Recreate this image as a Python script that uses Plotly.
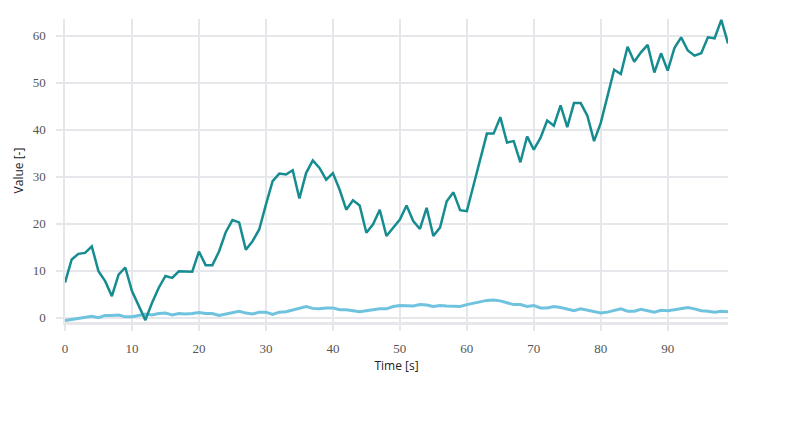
import plotly.graph_objects as go

time_s = list(range(100))

series_main = [
    7.5, 12.4, 13.6, 13.8, 15.2, 9.9, 7.8, 4.6, 9.2, 10.7,
    5.7, 2.5, -0.5, 3.2, 6.4, 8.9, 8.5, 9.9, 9.8, 9.8,
    14.1, 11.2, 11.2, 14.1, 18.2, 20.8, 20.3, 14.5, 16.3, 18.8,
    24.1, 29.1, 30.7, 30.5, 31.4, 25.4, 30.8, 33.5, 31.9, 29.4,
    30.8, 27.3, 23.0, 25.0, 23.9, 18.1, 19.9, 23.0, 17.4, 19.2,
    20.9, 23.9, 20.6, 18.9, 23.4, 17.4, 19.2, 24.8, 26.7, 22.9,
    22.7, 28.2, 33.7, 39.2, 39.2, 42.7, 37.3, 37.6, 33.1, 38.6,
    35.8, 38.3, 42.0, 40.9, 45.2, 40.6, 45.7, 45.7, 43.0, 37.6,
    41.5, 47.0, 52.8, 51.9, 57.7, 54.5, 56.5, 58.1, 52.2, 56.3,
    52.6, 57.4, 59.7, 56.9, 55.8, 56.3, 59.7, 59.5, 63.4, 58.4,
]

series_low = [
    -0.6, -0.4, -0.1, 0.1, 0.3, 0.0, 0.5, 0.5, 0.6, 0.2,
    0.2, 0.5, 0.8, 0.6, 0.9, 1.0, 0.6, 0.9, 0.8, 0.9,
    1.1, 0.9, 0.9, 0.5, 0.8, 1.2, 1.4, 1.0, 0.8, 1.2,
    1.2, 0.7, 1.2, 1.3, 1.7, 2.0, 2.4, 2.0, 1.9, 2.1,
    2.1, 1.7, 1.7, 1.5, 1.3, 1.5, 1.7, 1.9, 1.9, 2.4,
    2.6, 2.6, 2.5, 2.8, 2.7, 2.4, 2.6, 2.5, 2.5, 2.4,
    2.8, 3.1, 3.4, 3.7, 3.8, 3.6, 3.2, 2.8, 2.8, 2.4,
    2.6, 2.1, 2.1, 2.4, 2.2, 1.9, 1.5, 1.9, 1.6, 1.3,
    1.0, 1.2, 1.5, 1.9, 1.4, 1.4, 1.8, 1.5, 1.2, 1.6,
    1.5, 1.7, 1.9, 2.2, 1.9, 1.5, 1.4, 1.2, 1.4, 1.3,
]

x_ticks = [0, 10, 20, 30, 40, 50, 60, 70, 80, 90]
y_ticks = [0, 10, 20, 30, 40, 50, 60]

grid = "#e6e7ea"
tickfont = dict(family="Liberation Serif", size=13, color="#555555")
titlefont = dict(family="Open Sans", size=12, color="#222222")

fig = go.Figure()
fig.add_trace(go.Scatter(x=time_s, y=series_low, mode="lines",
                         line=dict(color="#6fc3de", width=3), showlegend=False))
fig.add_trace(go.Scatter(x=time_s, y=series_main, mode="lines",
                         line=dict(color="#168c90", width=2.5), showlegend=False))

fig.update_layout(
    width=784, height=429,
    margin=dict(l=57, r=64, t=11, b=115),
    paper_bgcolor="white", plot_bgcolor="white",
    xaxis=dict(
        range=[0, 99], tickvals=x_ticks, ticktext=[str(v) for v in x_ticks],
        showgrid=True, gridcolor=grid, gridwidth=1.5, automargin=False,
        zeroline=False, showline=True, linecolor=grid, linewidth=3,
        ticks="outside", ticklen=6, tickcolor=grid, tickwidth=1.5,
        tickfont=tickfont, ticklabelstandoff=6,
        title=dict(text="Time [s]", font=titlefont, standoff=8),
    ),
    yaxis=dict(
        range=[-0.9, 63.6], tickvals=y_ticks, ticktext=[str(v) for v in y_ticks],
        showgrid=True, gridcolor=grid, gridwidth=1.5, automargin=False,
        zeroline=False, showline=True, linecolor=grid, linewidth=1.5,
        ticks="outside", ticklen=7, tickcolor=grid, tickwidth=1.5,
        tickfont=tickfont, ticklabelstandoff=8,
        title=dict(text="Value [-]", font=titlefont, standoff=6),
    ),
)

fig.write_html("out.html")
